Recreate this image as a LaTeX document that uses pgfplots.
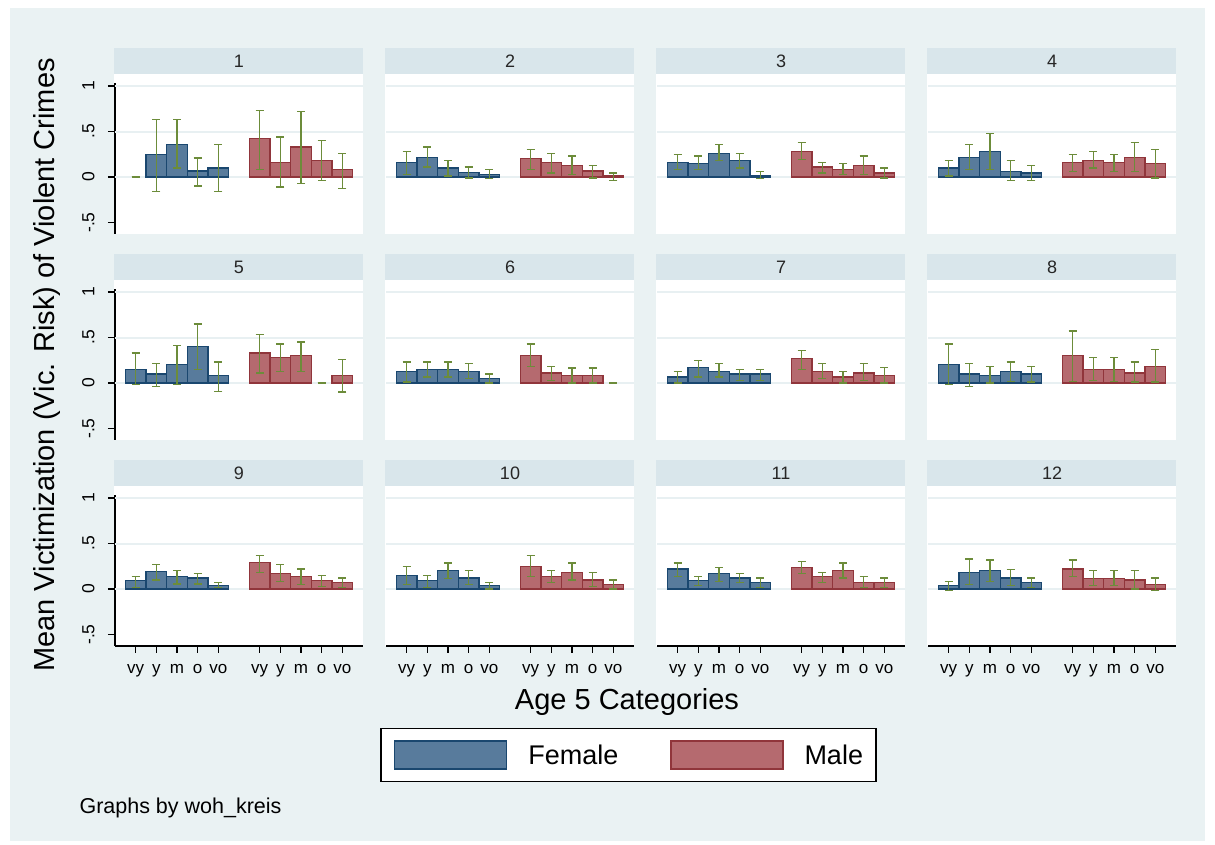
\documentclass[border=0pt]{standalone}
\usepackage{pgfplots}
\pgfplotsset{compat=1.18}
\usepackage{pgfplotstable}
\usepackage{fontspec}
\setmainfont{Liberation Sans}

\definecolor{bgc}{RGB}{234,242,243}
\definecolor{hdrc}{RGB}{217,230,235}
\definecolor{gridc}{RGB}{232,240,242}
\definecolor{femf}{RGB}{88,123,156}
\definecolor{femd}{RGB}{26,71,111}
\definecolor{malf}{RGB}{181,106,111}
\definecolor{mald}{RGB}{144,53,59}
\definecolor{errc}{RGB}{108,140,58}

% k = age category (vy y m o vo); f/m = mean, lo/hi = confidence interval
\pgfplotstableread{
k f flo fhi m mlo mhi
1 nan 0 0 0.42 0.08 0.73
2 0.25 -0.16 0.63 0.16 -0.11 0.44
3 0.36 0.10 0.63 0.33 -0.07 0.72
4 0.066 -0.10 0.21 0.18 -0.04 0.40
5 0.10 -0.16 0.36 0.08 -0.125 0.26
}\pone
\pgfplotstableread{
k f flo fhi m mlo mhi
1 0.16 0.03 0.28 0.20 0.08 0.30
2 0.21 0.11 0.33 0.16 0.045 0.26
3 0.10 0.01 0.18 0.13 0.03 0.23
4 0.05 -0.01 0.11 0.066 -0.01 0.13
5 0.03 -0.02 0.08 0.015 -0.04 0.045
}\ptwo
\pgfplotstableread{
k f flo fhi m mlo mhi
1 0.16 0.08 0.25 0.28 0.19 0.38
2 0.15 0.08 0.23 0.11 0.045 0.16
3 0.26 0.18 0.36 0.08 0.03 0.15
4 0.18 0.10 0.26 0.13 0.03 0.23
5 0.015 -0.02 0.06 0.045 -0.01 0.10
}\pthree
\pgfplotstableread{
k f flo fhi m mlo mhi
1 0.10 0.01 0.18 0.16 0.06 0.25
2 0.21 0.08 0.36 0.18 0.10 0.28
3 0.28 0.08 0.48 0.16 0.06 0.25
4 0.06 -0.04 0.18 0.21 0.06 0.38
5 0.045 -0.04 0.13 0.15 -0.01 0.30
}\pfour
\pgfplotstableread{
k f flo fhi m mlo mhi
1 0.15 -0.02 0.33 0.33 0.11 0.53
2 0.10 -0.035 0.215 0.28 0.13 0.43
3 0.20 -0.02 0.41 0.30 0.13 0.45
4 0.40 0.15 0.65 nan 0 0
5 0.08 -0.09 0.23 0.08 -0.10 0.26
}\pfive
\pgfplotstableread{
k f flo fhi m mlo mhi
1 0.13 0.01 0.23 0.30 0.18 0.43
2 0.15 0.065 0.23 0.11 0.03 0.18
3 0.15 0.065 0.23 0.08 0 0.165
4 0.13 0.05 0.215 0.08 0 0.165
5 0.05 0 0.10 nan 0 0
}\psix
\pgfplotstableread{
k f flo fhi m mlo mhi
1 0.065 0 0.13 0.27 0.15 0.36
2 0.17 0.065 0.25 0.13 0.05 0.215
3 0.13 0.065 0.215 0.065 0 0.13
4 0.10 0.03 0.15 0.11 0.03 0.215
5 0.10 0.03 0.15 0.08 0 0.17
}\pseven
\pgfplotstableread{
k f flo fhi m mlo mhi
1 0.20 -0.02 0.43 0.30 0.015 0.57
2 0.10 -0.035 0.215 0.15 0.03 0.28
3 0.08 0 0.18 0.15 0.015 0.28
4 0.13 0.015 0.23 0.11 0.01 0.23
5 0.10 0.01 0.18 0.18 0.01 0.365
}\peight
\pgfplotstableread{
k f flo fhi m mlo mhi
1 0.09 0.02 0.135 0.29 0.18 0.37
2 0.19 0.10 0.27 0.17 0.085 0.27
3 0.135 0.055 0.20 0.135 0.05 0.22
4 0.12 0.055 0.17 0.09 0.03 0.15
5 0.035 0.02 0.07 0.07 0.02 0.12
}\pnine
\pgfplotstableread{
k f flo fhi m mlo mhi
1 0.15 0.05 0.25 0.25 0.135 0.37
2 0.09 0.02 0.15 0.135 0.07 0.20
3 0.20 0.115 0.285 0.185 0.10 0.285
4 0.12 0.05 0.20 0.10 0.03 0.185
5 0.035 0 0.07 0.05 0 0.10
}\pten
\pgfplotstableread{
k f flo fhi m mlo mhi
1 0.22 0.135 0.285 0.235 0.17 0.30
2 0.09 0.035 0.135 0.135 0.07 0.185
3 0.17 0.085 0.235 0.20 0.12 0.285
4 0.12 0.07 0.17 0.07 0.02 0.135
5 0.07 0.02 0.12 0.07 0.02 0.12
}\peleven
\pgfplotstableread{
k f flo fhi m mlo mhi
1 0.035 -0.015 0.085 0.22 0.135 0.32
2 0.185 0.05 0.33 0.115 0.035 0.20
3 0.20 0.085 0.32 0.115 0.035 0.20
4 0.12 0.035 0.215 0.10 0 0.20
5 0.07 0.02 0.12 0.05 -0.015 0.12
}\ptwelve

\pgfplotsset{
  panel/.style={
    scale only axis, width=248pt, height=151pt, anchor=south west,
    xmin=0, xmax=12, ymin=-0.626, ymax=1.033,
    axis x line*=bottom, axis y line*=left,
    x axis line style={draw=none,-}, y axis line style={draw=none,-},
    xtick=\empty, ytick=\empty,
    extra y ticks={0,0.5,1}, extra y tick labels={},
    extra y tick style={grid=major, major tick length=0pt},
    major grid style={gridc, line width=2pt},
    tick align=outside, major tick length=7pt,
    tick style={black, line width=1.2pt},
    tick label style={font=\fontsize{17}{20}\selectfont},
  },
  leftcol/.style={
    y axis line style={draw=black, line width=1.2pt},
    ytick={-0.5,0,0.5,1}, yticklabels={-.5,0,.5,1},
    yticklabel style={rotate=90, anchor=south, font=\fontsize{17.5}{20}\selectfont},
    yticklabel shift=10pt,
  },
  botrow/.style={
    x axis line style={draw=black, line width=1.2pt},
    xtick={1,2,3,4,5,7,8,9,10,11},
    xticklabels={vy,y,m,o,vo,vy,y,m,o,vo},
    xticklabel shift=8pt,
  },
  barleg/.style={legend image code/.code={
    \draw[##1,/tikz/.cd] (0pt,-14pt) rectangle (112pt,14pt);
    \path (133pt,0pt);}},
  err/.style={draw=none, mark=none,
    error bars/y dir=both, error bars/y explicit,
    error bars/error bar style={draw=errc, line width=1.3pt, solid},
    error bars/error mark=-,
    error bars/error mark options={draw=errc, line width=1.3pt, mark size=4pt, rotate=90}},
}

\newcommand{\panel}[5]{%
  \fill[white] ({#3-1},#4) rectangle ({#3+248},{#4+160});
  \fill[hdrc] ({#3-1},{#4+160}) rectangle ({#3+248},{#4+186});
  \node[font=\fontsize{18}{21}\selectfont, text=black!85] at ({#3+124},{#4+173}) {#2};
  \begin{axis}[panel, at={(#3pt,#4pt)}, #5]
    \addplot[ybar, bar width=1, bar shift=0pt, fill=femf, draw=femd, line width=1.2pt, barleg]
      table[x=k, y=f] {#1};
    \addplot[ybar, bar width=1, bar shift=0pt, fill=malf, draw=mald, line width=1.2pt, barleg]
      table[x expr=\thisrow{k}+6, y=m] {#1};
    \addplot[forget plot, err] table[x=k, y expr=(\thisrow{flo}+\thisrow{fhi})/2,
      y error expr=(\thisrow{fhi}-\thisrow{flo})/2] {#1};
    \addplot[forget plot, err] table[x expr=\thisrow{k}+6, y expr=(\thisrow{mlo}+\thisrow{mhi})/2,
      y error expr=(\thisrow{mhi}-\thisrow{mlo})/2] {#1};
  \end{axis}}

\begin{document}
\begin{tikzpicture}[x=1pt, y=1pt]
  \useasboundingbox (0,0) rectangle (1215,845);
  \fill[white] (0,0) rectangle (1215,845);
  \fill[bgc] (10,4) rectangle (1205,837);

  \panel{\pone}{1}{115}{611}{leftcol}
  \panel{\ptwo}{2}{386}{611}{}
  \panel{\pthree}{3}{657}{611}{}
  \panel{\pfour}{4}{928}{611}{}
  \panel{\pfive}{5}{115}{405}{leftcol}
  \panel{\psix}{6}{386}{405}{}
  \panel{\pseven}{7}{657}{405}{}
  \panel{\peight}{8}{928}{405}{}
  \panel{\pnine}{9}{115}{199}{leftcol, botrow}
  \panel{\pten}{10}{386}{199}{botrow, legend columns=2, legend cell align=left,
    legend style={at={(0.978,-0.722)}, anchor=center, draw=black, line width=1.3pt,
      fill=white, inner xsep=13pt, inner ysep=12pt, font=\fontsize{27}{30}\selectfont,
      nodes={inner sep=0pt},
      /tikz/every even column/.append style={column sep=52pt}},
    legend entries={Female, Male}}
  \panel{\peleven}{11}{657}{199}{botrow}
  \panel{\ptwelve}{12}{928}{199}{botrow}

  \node[rotate=90, font=\fontsize{29}{32}\selectfont] at (47,480)
    {Mean Victimization (Vic. Risk) of Violent Crimes};
  \node[font=\fontsize{29}{32}\selectfont] at (627,143) {Age 5 Categories};
  \node[anchor=west, font=\fontsize{21.5}{25}\selectfont] at (76,37) {Graphs by woh\_kreis};
\end{tikzpicture}
\end{document}
